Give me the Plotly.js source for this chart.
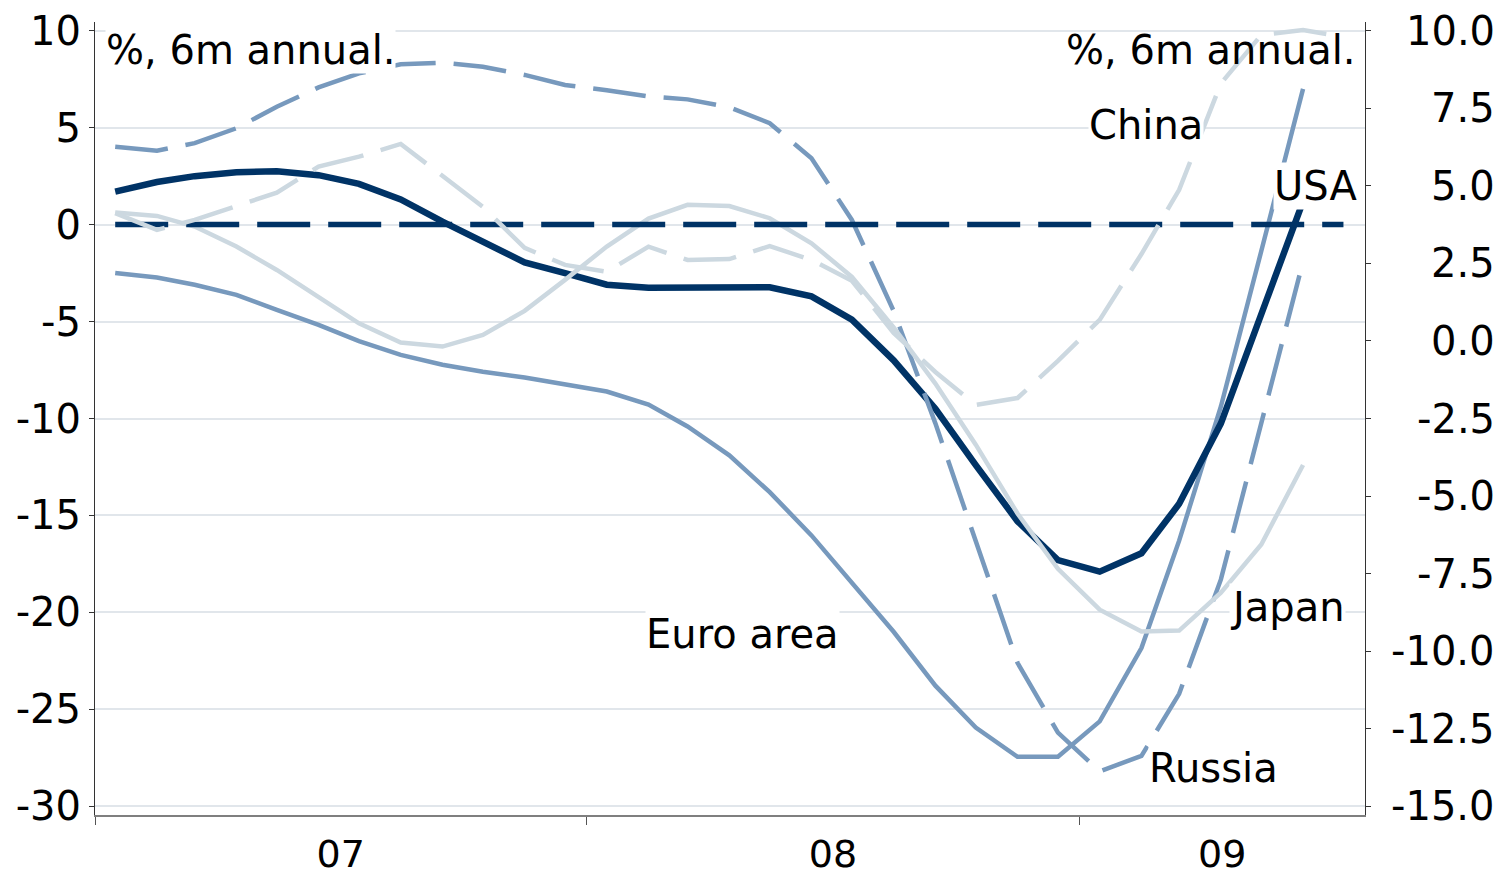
<!DOCTYPE html>
<html>
<head>
<meta charset="utf-8">
<script src="https://cdn.plot.ly/plotly-3.0.1.min.js"></script>
<style>
  html, body { margin: 0; padding: 0; background: #ffffff; }
  #chart { width: 1499px; height: 879px; }
</style>
</head>
<body>
<div id="chart"></div>
<script>
// ---- Data (monthly, % 6m annualised) ----
const months = ['2007-01','2007-02','2007-03','2007-04','2007-05','2007-06','2007-07','2007-08','2007-09','2007-10','2007-11','2007-12',
                '2008-01','2008-02','2008-03','2008-04','2008-05','2008-06','2008-07','2008-08','2008-09','2008-10','2008-11','2008-12',
                '2009-01','2009-02','2009-03','2009-04','2009-05','2009-06','2009-07'];

const usa = [1.7, 2.2, 2.5, 2.7, 2.75, 2.55, 2.1, 1.3, 0.15, -0.85, -1.95, -2.5, -3.1, -3.25, -3.24, -3.2, -3.23, -3.7, -4.9, -7.0,
             -9.5, -12.4, -15.3, -17.3, -17.9, -16.95, -14.4, -10.25, -4.7, 1.2];
const euroArea = [-2.5, -2.73, -3.1, -3.62, -4.4, -5.17, -6.01, -6.72, -7.23, -7.59, -7.89, -8.24, -8.61, -9.28, -10.41, -11.9, -13.8, -16.03, -18.5, -21.0,
                  -23.78, -25.94, -27.45, -27.45, -25.62, -21.84, -16.3, -9.38, -1.36, 7.0];
const russia = [4.02, 3.81, 4.2, 4.97, 6.08, 7.08, 7.8, 8.27, 8.35, 8.14, 7.72, 7.2, 6.93, 6.61, 6.46, 6.05, 5.23, 3.42, 0.24, -4.45,
                -10.25, -16.3, -22.6, -26.2, -28.2, -27.4, -24.2, -18.3, -10.2, -1.9];
const japan = [0.62, 0.45, -0.1, -1.13, -2.34, -3.71, -5.09, -6.08, -6.29, -5.69, -4.45, -2.85, -1.13, 0.31, 1.02, 0.96, 0.33, -0.96, -2.7, -5.3,
               -8.2, -11.35, -14.9, -17.75, -19.86, -20.98, -20.94, -18.98, -16.5, -12.4];
// China on the right-hand axis
const china = [4.12, 3.58, 3.9, 4.33, 4.78, 5.62, 5.94, 6.35, 5.31, 4.32, 3.0, 2.45, 2.23, 3.04, 2.61, 2.64, 3.06, 2.61, 1.94, 0.26,
               -1.0, -2.06, -1.84, -0.64, 0.68, 2.8, 4.87, 8.3, 9.86, 10.02, 9.8];
const zeroLine = [0, 0, 0, 0, 0, 0, 0, 0, 0, 0, 0, 0, 0, 0, 0, 0, 0, 0, 0, 0, 0, 0, 0, 0, 0, 0, 0, 0, 0, 0, 0];

const yearLabels = ['07', '08', '09'];
const yearStarts = ['2007-01-01', '2008-01-01', '2009-01-01'];
const leftTicks = [10, 5, 0, -5, -10, -15, -20, -25, -30];
const rightTicks = [10, 7.5, 5, 2.5, 0, -2.5, -5, -7.5, -10, -12.5, -15];
const unitLabel = '%, 6m annual.';
const seriesLabels = ['China', 'USA', 'Japan', 'Russia', 'Euro area'];

// ---- Layout helpers ----
const W = 1499, H = 879;
const M = { l: 95, r: 134, t: 22, b: 64 };
const PW = W - M.l - M.r, PH = H - M.t - M.b;
const px = x => (x - M.l) / PW;
const py = y => (H - M.b - y) / PH;

const xStart = '2007-01-01', xEnd = '2009-08-01';
const xDates = months.map(m => m + '-16');

// centre of the visible part of each year, for the year labels
function isoOf(ms) { return new Date(ms).toISOString().replace('T', ' ').slice(0, 19); }
const t0 = Date.parse(xStart), t1 = Date.parse(xEnd);
const labelPos = yearStarts.map((s, i) => {
  const a = Math.max(Date.parse(s), t0);
  const b = Math.min(i + 1 < yearStarts.length ? Date.parse(yearStarts[i + 1]) : Infinity, t1);
  return isoOf((a + b) / 2);
});

const NAVY = '#003366', STEEL = '#7799BD', LIGHT = '#CCD8E0';
const DASH = '53px,18px';
const FONT = 'DejaVu Sans, Verdana, sans-serif';
const FS = 40;

function line(y, color, width, dash, axis) {
  return {
    x: xDates.slice(0, y.length), y: y, type: 'scatter', mode: 'lines',
    yaxis: axis || 'y', hoverinfo: 'skip',
    line: { color: color, width: width, dash: dash || 'solid' }
  };
}

const traces = [
  line(china, LIGHT, 4.5, DASH, 'y2'),
  line(euroArea, STEEL, 4.5),
  line(usa, NAVY, 6.5),
  line(russia, STEEL, 4.5, DASH),
  line(japan, LIGHT, 4.5),
  line(zeroLine, NAVY, 5.5, DASH)
];

function textAnn(text, xPix, yPix, anchor, bg) {
  return {
    text: text, xref: 'paper', yref: 'paper', x: px(xPix), y: py(yPix),
    xanchor: anchor, yanchor: 'middle', showarrow: false,
    bgcolor: bg ? '#ffffff' : 'rgba(0,0,0,0)', borderpad: 0,
    font: { family: FONT, size: FS, color: '#000000' }
  };
}

const annotations = [
  textAnn(unitLabel, 105, 50, 'left', true),
  textAnn(unitLabel, 1356, 50, 'right', false),
  textAnn(seriesLabels[0], 1088, 125, 'left', true),
  textAnn(seriesLabels[1], 1273, 186, 'left', true),
  textAnn(seriesLabels[2], 1229, 607, 'left', true),
  textAnn(seriesLabels[3], 1148, 768, 'left', true),
  textAnn(seriesLabels[4], 645, 634, 'left', true)
];
// right-axis tick labels, right aligned as in the original
rightTicks.forEach(v => {
  annotations.push({
    text: v.toFixed(1), xref: 'paper', yref: 'y2', x: 1, y: v,
    xanchor: 'right', yanchor: 'middle', xshift: 1497 - (W - M.r), showarrow: false,
    font: { family: FONT, size: FS, color: '#000000' }
  });
});

const layout = {
  width: W, height: H,
  margin: M,
  paper_bgcolor: '#ffffff', plot_bgcolor: '#ffffff',
  showlegend: false,
  font: { family: FONT, size: FS, color: '#000000' },
  xaxis: {
    type: 'date', range: [xStart, xEnd],
    tickmode: 'array', tickvals: labelPos, ticktext: yearLabels,
    ticks: '', showgrid: false, zeroline: false,
    showline: true, linecolor: '#7f7f7f', linewidth: 1.5,
    tickfont: { family: FONT, size: 38, color: '#000000' },
    ticklabelstandoff: 5,
    minor: { tickmode: 'array', tickvals: yearStarts, ticks: 'outside', ticklen: 8,
             tickcolor: '#555555', tickwidth: 1, showgrid: false }
  },
  yaxis: {
    range: [-30.45, 10.45],
    tickmode: 'array', tickvals: leftTicks, ticktext: leftTicks.map(String),
    ticks: 'outside', ticklen: 5, tickcolor: '#333333', tickwidth: 1,
    showgrid: true, gridcolor: '#E1E6EB', gridwidth: 2, zeroline: false,
    showline: true, linecolor: '#333333', linewidth: 1,
    tickfont: { family: FONT, size: FS, color: '#000000' }
  },
  yaxis2: {
    overlaying: 'y', side: 'right',
    range: [-15.28, 10.28],
    tickmode: 'array', tickvals: rightTicks, showticklabels: false,
    ticks: 'outside', ticklen: 5, tickcolor: '#333333', tickwidth: 1,
    showgrid: false, zeroline: false,
    showline: true, linecolor: '#333333', linewidth: 1
  },
  annotations: annotations
};

Plotly.newPlot('chart', traces, layout, { displayModeBar: false, staticPlot: true });
</script>
</body>
</html>
